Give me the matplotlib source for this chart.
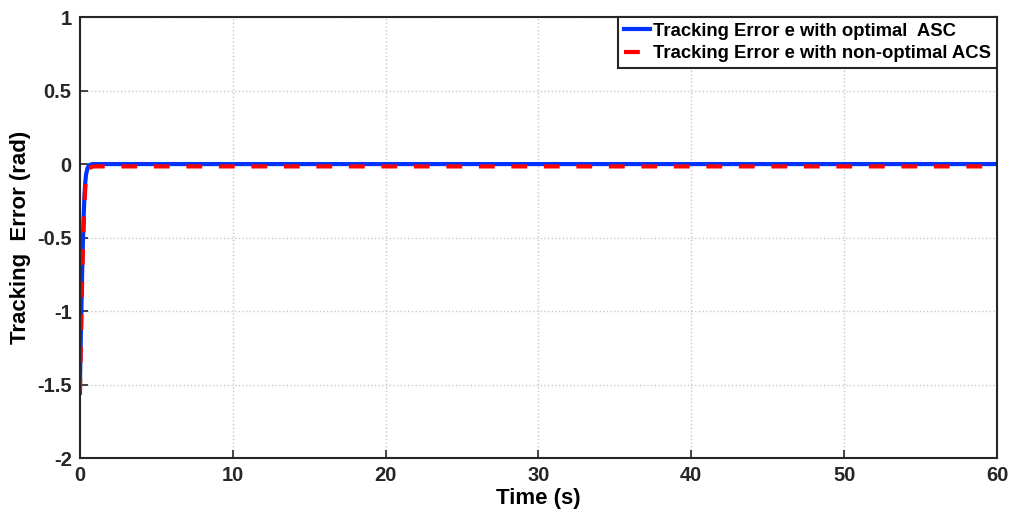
import matplotlib.pyplot as plt

# time samples (s) and tracking error (rad) for both controllers
t = [0, 0.05, 0.1, 0.15, 0.2, 0.25, 0.3, 0.35, 0.4, 0.5, 0.6, 0.8, 1.0, 60]
e_opt = [-1.5, -1.2, -0.95, -0.7, -0.5, -0.33, -0.2, -0.12, -0.07, -0.025, -0.008, 0.0, 0.0, 0.0]
e_nonopt = [-1.57, -1.27, -1.0, -0.75, -0.55, -0.38, -0.25, -0.16, -0.1, -0.045, -0.027, -0.018, -0.016, -0.016]

xticks = [0, 10, 20, 30, 40, 50, 60]
yticks = [-2, -1.5, -1, -0.5, 0, 0.5, 1]

plt.rcParams['font.family'] = ['Liberation Sans', 'DejaVu Sans']
plt.rcParams['font.weight'] = 'bold'

fig = plt.figure(figsize=(10.11, 5.17), dpi=100)
ax = fig.add_axes([0.0791, 0.114, 0.907, 0.853])

ax.plot(t, e_opt, color='#0033ff', lw=3.0, label='Tracking Error e with optimal  ASC')
ax.plot(t, e_nonopt, color='#ff0000', lw=3.0, ls=(0, (3.8, 4.0)),
        label='Tracking Error e with non-optimal ACS')

ax.set_xlim(0, 60)
ax.set_ylim(-2, 1)
ax.set_xticks(xticks)
ax.set_yticks(yticks)
ax.set_yticklabels(['-2', '-1.5', '-1', '-0.5', '0', '0.5', '1'])
ax.tick_params(direction='in', length=6, width=1.2, labelsize=14.5, colors='#262626', pad=6)
ax.grid(True, color='#c8c8c8', ls=':', lw=1.0)
for s in ax.spines.values():
    s.set_linewidth(1.5)
    s.set_color('#262626')

ax.set_xlabel('Time (s)', fontsize=16, fontweight='bold', labelpad=2)
ax.set_ylabel('Tracking  Error (rad)', fontsize=16, fontweight='bold', labelpad=4)

leg = ax.legend(loc='upper right', fontsize=13.3, handlelength=1.4, handletextpad=0.2,
                borderaxespad=0.0, borderpad=0.3, labelspacing=0.3, fancybox=False,
                framealpha=1, edgecolor='#262626')
leg.get_frame().set_linewidth(1.5)

fig.savefig('out.png', dpi=100)
